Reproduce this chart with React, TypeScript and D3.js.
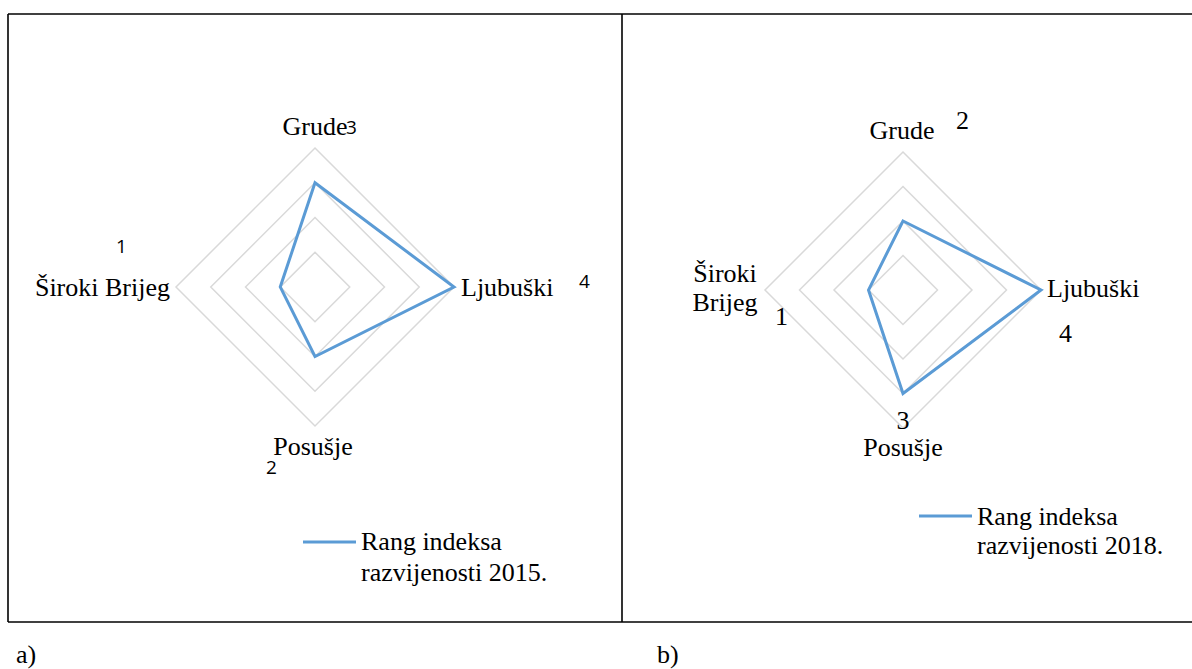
import * as d3 from "d3";

// chart data
const categories = ["Grude", "Ljubuški", "Posušje", "Široki Brijeg"];
const rank2015 = [3, 4, 2, 1];
const rank2018 = [2, 4, 3, 1];
const ringTicks = [1, 2, 3, 4];
const legend2015 = ["Rang indeksa", "razvijenosti 2015."];
const legend2018 = ["Rang indeksa", "razvijenosti 2018."];

const width = 1192,
	height = 669;
const blue = "#5B9BD5";
const grid = "#D9D9D9";
const serif = "Liberation Serif";
const sans = "Open Sans";

// quarter turns, clockwise from the top
const angleOf = (i: number) => (i * 2 * Math.PI) / categories.length;

const Radar = ({ cx, cy, radius, values, catPos, valPos, valFont, legend, legendPos }) => {
	const r = d3.scaleLinear().domain([0, 4]).range([0, radius]);
	const radial = d3
		.lineRadial()
		.angle((_, i) => angleOf(i))
		.radius((d) => r(d))
		.curve(d3.curveLinearClosed);

	return (
		<g>
			<g transform={`translate(${cx},${cy})`}>
				{ringTicks.map((t) => (
					<path key={t} d={radial(categories.map(() => t))} fill="none" stroke={grid} strokeWidth={1.5} />
				))}
				<path d={radial(values)} fill="none" stroke={blue} strokeWidth={3} />
			</g>
			{categories.map((c, i) => {
				const p = catPos[i];
				const lines = p.lines || [c];
				return (
					<text key={c} x={p.x} y={p.y} textAnchor={p.anchor} style={{ fontFamily: serif }} fontSize={26} fill="#000">
						{lines.map((l, j) => (
							<tspan key={j} x={p.x} dy={j === 0 ? 0 : 29}>
								{l}
							</tspan>
						))}
					</text>
				);
			})}
			{values.map((v, i) => (
				<text
					key={i}
					x={valPos[i].x}
					y={valPos[i].y}
					textAnchor={valPos[i].anchor || "start"}
					style={{ fontFamily: valFont.family }}
					fontSize={valFont.size}
					fill="#000"
				>
					{d3.format("d")(v)}
				</text>
			))}
			<line x1={legendPos.x1} x2={legendPos.x2} y1={legendPos.y} y2={legendPos.y} stroke={blue} strokeWidth={3} />
			{legend.map((l, j) => (
				<text key={j} x={legendPos.tx} y={legendPos.ty + j * legendPos.dy} style={{ fontFamily: serif }} fontSize={26}>
					{l}
				</text>
			))}
		</g>
	);
};

export default function App() {
	return (
		<svg width={width} height={height} style={{ position: "absolute", left: 0, top: 0, background: "#fff" }}>
			<rect width={width} height={height} fill="#fff" />
			{/* frames */}
			<g stroke="#000" strokeWidth={1.6}>
				<line x1={8} x2={width} y1={14} y2={14} />
				<line x1={8} x2={width} y1={622} y2={622} />
				<line x1={8} x2={8} y1={14} y2={622} />
				<line x1={622} x2={622} y1={14} y2={622} />
			</g>

			<Radar
				cx={315}
				cy={287}
				radius={139}
				values={rank2015}
				catPos={[
					{ x: 315, y: 135, anchor: "middle" },
					{ x: 461, y: 296, anchor: "start" },
					{ x: 313, y: 455, anchor: "middle" },
					{ x: 170, y: 296, anchor: "end" },
				]}
				valPos={[
					{ x: 346, y: 134 },
					{ x: 579, y: 288 },
					{ x: 266, y: 474 },
					{ x: 116, y: 253 },
				]}
				valFont={{ family: sans, size: 19 }}
				legend={legend2015}
				legendPos={{ x1: 303, x2: 356, y: 542, tx: 361, ty: 550, dy: 31 }}
			/>

			<Radar
				cx={903}
				cy={290}
				radius={138}
				values={rank2018}
				catPos={[
					{ x: 902, y: 139, anchor: "middle" },
					{ x: 1047, y: 297, anchor: "start" },
					{ x: 903, y: 456, anchor: "middle" },
					{ x: 725, y: 282, anchor: "middle", lines: ["Široki", "Brijeg"] },
				]}
				valPos={[
					{ x: 956, y: 129 },
					{ x: 1059, y: 342 },
					{ x: 903, y: 429, anchor: "middle" },
					{ x: 775, y: 325 },
				]}
				valFont={{ family: serif, size: 26 }}
				legend={legend2018}
				legendPos={{ x1: 919, x2: 972, y: 516, tx: 977, ty: 525, dy: 29 }}
			/>

			<text x={16} y={663} style={{ fontFamily: serif }} fontSize={26}>
				a)
			</text>
			<text x={657} y={663} style={{ fontFamily: serif }} fontSize={26}>
				b)
			</text>
		</svg>
	);
}
